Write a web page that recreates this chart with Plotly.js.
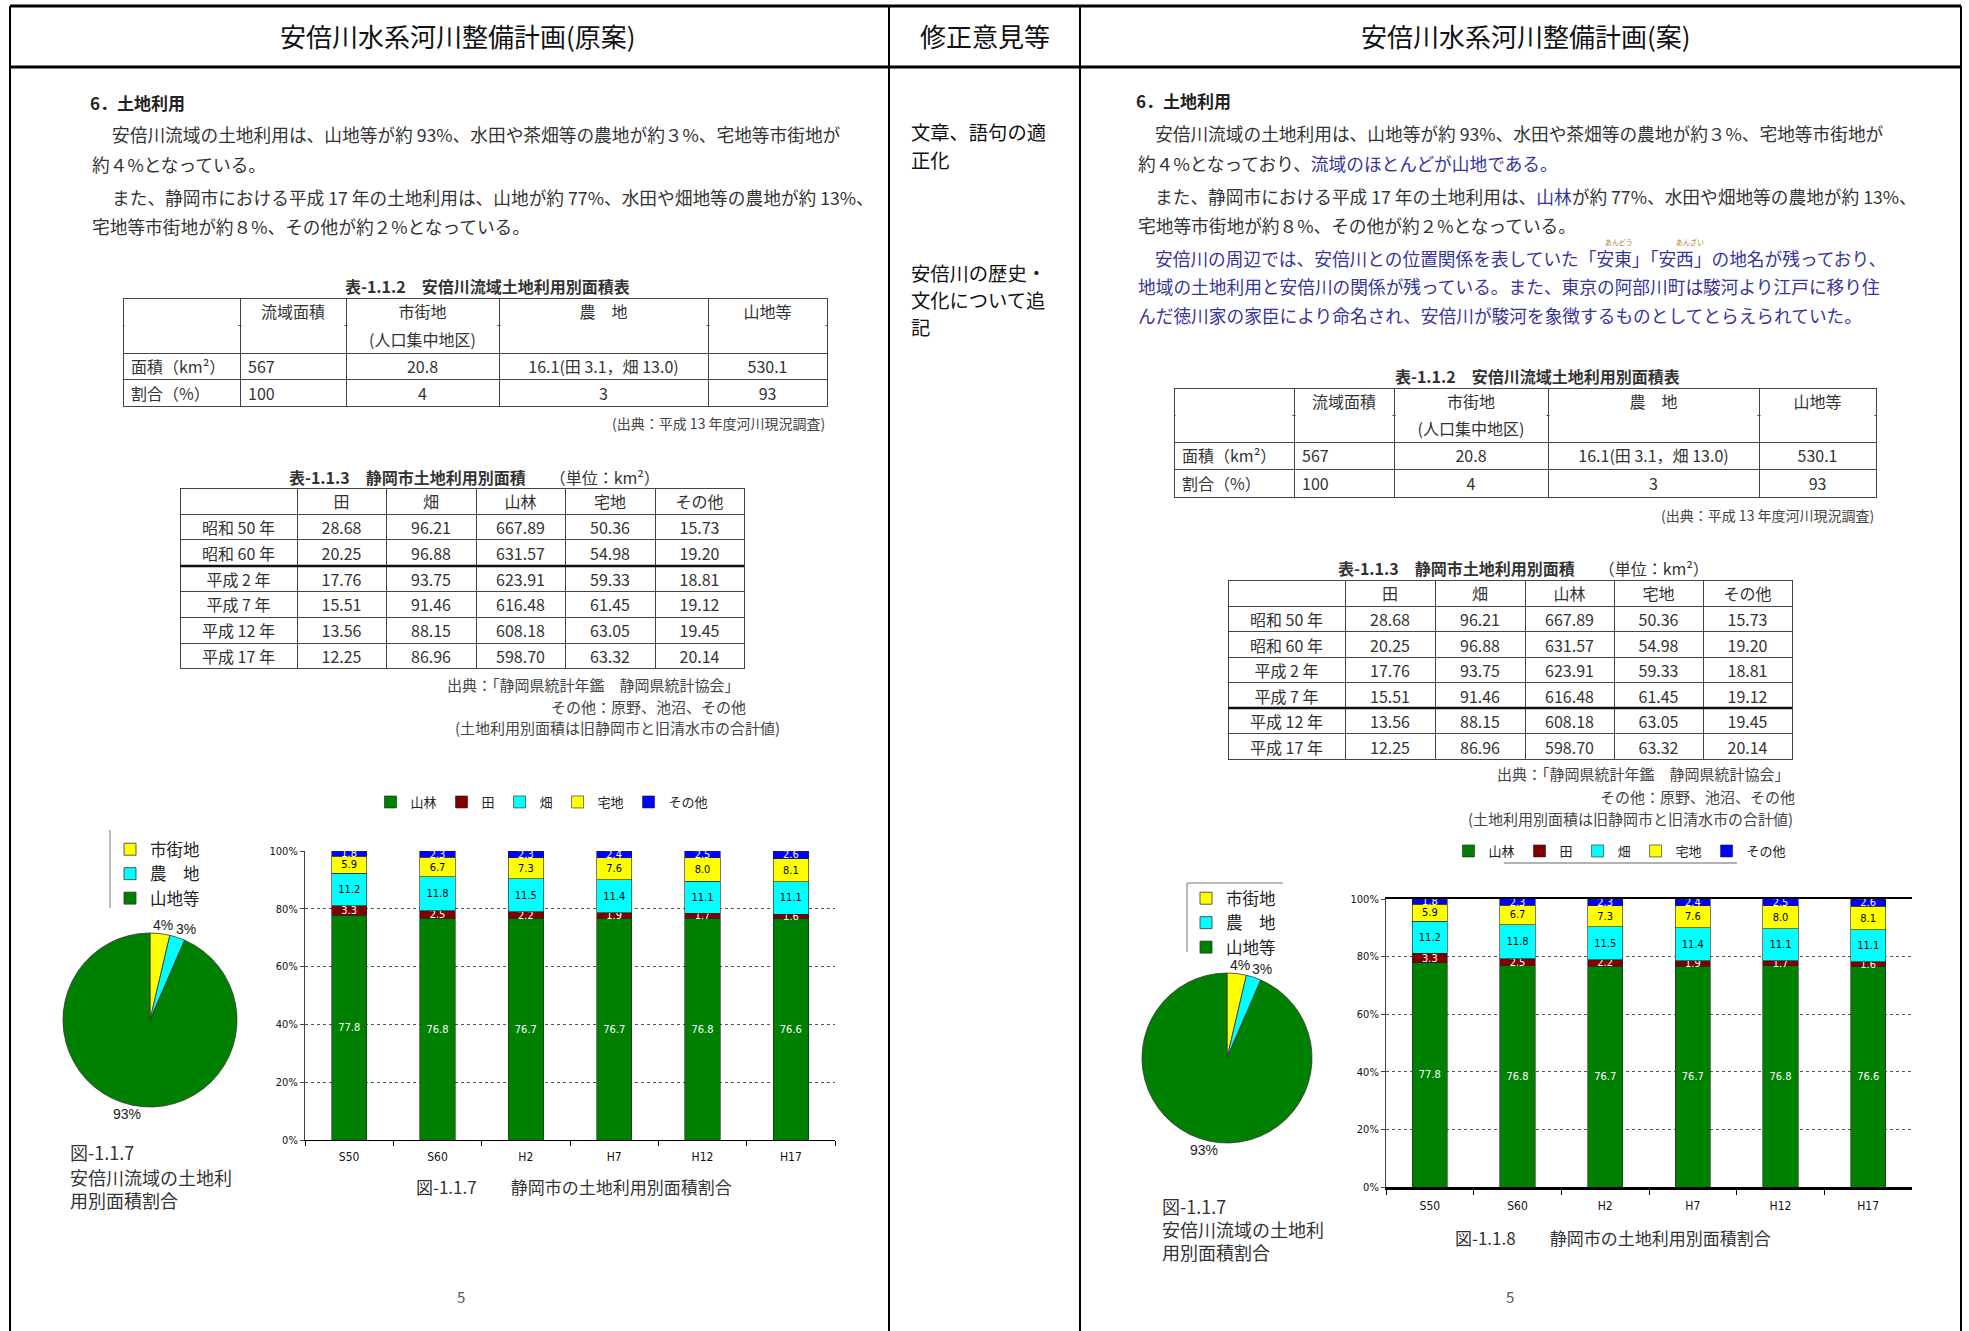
<!DOCTYPE html>
<html><head><meta charset="utf-8">
<script src="https://cdn.plot.ly/plotly-3.0.1.min.js"></script>
<style>html,body{margin:0;padding:0;background:#fff}#chart{width:1969px;height:1331px}</style>
</head><body><div id="chart"></div>
<script>
// ---------------- data ----------------
const years = ['S50','S60','H2','H7','H12','H17'];
const seriesNames = ['山林','田','畑','宅地','その他'];
const sanrin  = [77.8,76.8,76.7,76.7,76.8,76.6];
const ta      = [3.3,2.5,2.2,1.9,1.7,1.6];
const hata    = [11.2,11.8,11.5,11.4,11.1,11.1];
const takuchi = [5.9,6.7,7.3,7.6,8.0,8.1];
const sonota  = [1.8,2.3,2.3,2.4,2.5,2.6];
const yTickVals = [0,20,40,60,80,100];
const yTickText = ['0%','20%','40%','60%','80%','100%'];

const pieLabels = ['市街地','農　地','山地等'];
const pieValues = [20.8,16.1,530.1];
const pieText   = ['4%','3%','93%'];

const t1HeaderTop = ['', '流域面積', '市街地', '農　地', '山地等'];
const t1HeaderSub = ['', '', '(人口集中地区)', '', ''];
const t1RowLabels = ['面積（km²）','割合（%）'];
const t1Basin   = ['567','100'];
const t1Urban   = ['20.8','4'];
const t1Farm    = ['16.1(田 3.1，畑 13.0)','3'];
const t1Mount   = ['530.1','93'];

const t2Header = ['', '田','畑','山林','宅地','その他'];
const t2Years  = ['昭和 50 年','昭和 60 年','平成 2 年','平成 7 年','平成 12 年','平成 17 年'];
const t2Ta      = ['28.68','20.25','17.76','15.51','13.56','12.25'];
const t2Hata    = ['96.21','96.88','93.75','91.46','88.15','86.96'];
const t2Sanrin  = ['667.89','631.57','623.91','616.48','608.18','598.70'];
const t2Takuchi = ['50.36','54.98','59.33','61.45','63.05','63.32'];
const t2Sonota  = ['15.73','19.20','18.81','19.12','19.45','20.14'];

// ---------------- helpers ----------------
const W=1969, H=1331;
const px = x => x/W, py = y => 1 - y/H;
const JP = '"Noto Sans CJK JP", "Noto Sans", sans-serif';
const NARROW = '"Liberation Sans Narrow", "DejaVu Sans Condensed", "Liberation Sans", sans-serif';
const ARIAL = '"Liberation Sans", Arial, sans-serif';
const BODY = '#333';
const BLUE = '#35359a';
const seriesVals = [sanrin, ta, hata, takuchi, sonota];
const seriesColors = ['#008000','#800000','#00ffff','#ffff00','#0000ff'];
const seriesText = ['#ffffff','#ffffff','#000000','#000000','#ffffff'];

const traces = [];
const ann = [];
const shapes = [];
function T(text, x, y, o){
  o = o || {};
  ann.push({text, x:px(x), y:py(y), xref:'paper', yref:'paper', xanchor:o.xa||'left', yanchor:'middle',
    showarrow:false, font:{family:o.f||JP, size:o.s||18, color:o.c||BODY}});
}
function L(x0,y0,x1,y1,w,c,dash){
  shapes.push({type:'line', xref:'paper', yref:'paper', x0:px(x0), y0:py(y0), x1:px(x1), y1:py(y1),
    line:{color:c||'#000', width:w||1, dash:dash||'solid'}, layer:'above'});
}

function addBars(xa, ya, lg){
  seriesVals.forEach((vals,i)=>{
    traces.push({
      type:'bar', x:years, y:vals, name:seriesNames[i], xaxis:xa, yaxis:ya, legend:lg,
      marker:{color:seriesColors[i], line:{color:'#222', width:0.6}},
      text: vals.map(v=>v.toFixed(1)), textposition:'inside', insidetextanchor:'middle',
      textangle:0, constraintext:'none',
      textfont:{family:NARROW, size:11, color:seriesText[i]},
      hoverinfo:'skip'
    });
  });
}
addBars('x','y','legend');
addBars('x2','y2','legend3');

function addPie(cx, cy, r, lg, grp){
  traces.push({
    type:'pie', labels:pieLabels, values:pieValues, textinfo:'none',
    sort:false, direction:'clockwise', rotation:0, legendgroup:grp,
    marker:{colors:['#ffff00','#00ffff','#008000'], line:{width:0.8, color:'#333'}},
    domain:{x:[px(cx-r), px(cx+r)], y:[py(cy+r), py(cy-r)]},
    legend:lg, hoverinfo:'skip'
  });
  // percentage labels placed just outside each slice, at its mid angle
  const total = pieValues.reduce((a,b)=>a+b,0);
  let cum = 0;
  pieValues.forEach((v,i)=>{
    const mid = (cum + v/2)/total*2*Math.PI; cum += v;
    const d = r + 2;
    T(pieText[i], cx + (d+24)*Math.sin(mid), cy - (d+7)*Math.cos(mid), {xa:'center', f:ARIAL, s:14, c:'#222'});
  });
}
addPie(150,1020,87,'legend2','pieL');
addPie(1227,1058,85,'legend4','pieR');

const tfont = {family:JP, size:16, color:'#333'};
const tline = {color:'#444', width:1};
function addTable1(xs, top, hh, rh){
  const cw = []; for(let i=1;i<xs.length;i++) cw.push(xs[i]-xs[i-1]);
  const hv = t1HeaderTop.map((t,i)=>[t, t1HeaderSub[i]]);
  traces.push({
    type:'table', domain:{x:[px(xs[0]), px(xs[xs.length-1])], y:[py(top+2*hh+2*rh+40), py(top)]},
    columnwidth: cw,
    header:{values:hv, align:['left','center','center','center','center'], height:hh,
      font:tfont, line:tline, fill:{color:'#fff'}},
    cells:{values:[t1RowLabels,t1Basin,t1Urban,t1Farm,t1Mount], align:['left','left','center','center','center'],
      height:rh, font:tfont, line:tline, fill:{color:'#fff'}}
  });
  // header is one merged cell in the reference: hide the inner header rule
  for(let i=1;i<xs.length;i++) L(xs[i-1]+1.5, top+hh, xs[i]-1.5, top+hh, 2.2, '#ffffff');
}
function addTable2(xs, top, hh, rh){
  const cw = []; for(let i=1;i<xs.length;i++) cw.push(xs[i]-xs[i-1]);
  traces.push({
    type:'table', domain:{x:[px(xs[0]), px(xs[xs.length-1])], y:[py(top+hh+6*rh+40), py(top)]},
    columnwidth: cw,
    header:{values:t2Header, align:'center', height:hh, font:tfont, line:tline, fill:{color:'#fff'}},
    cells:{values:[t2Years,t2Ta,t2Hata,t2Sanrin,t2Takuchi,t2Sonota], align:'center',
      height:rh, font:tfont, line:tline, fill:{color:'#fff'}}
  });
}
addTable1([123,240,346,499,708,827], 298, 27.5, 26.5);
addTable2([180,297,386,476,565,655,744], 488, 26, 25.8);
addTable1([1174,1294,1394,1548,1759,1876], 388, 27, 27.5);
addTable2([1228,1345,1435,1525,1614,1703,1792], 580, 26, 25.5);

// ---------------- texts ----------------
const bl = s => `<span style="color:${BLUE}">${s}</span>`;
T('安倍川水系河川整備計画(原案)', 458, 36, {xa:'center', s:26, c:'#111'});
T('修正意見等', 985, 36, {xa:'center', s:26, c:'#111'});
T('安倍川水系河川整備計画(案)', 1526, 36, {xa:'center', s:26, c:'#111'});
// left text
T('<b>6．土地利用</b>', 88, 103, {s:17, c:'#222'});
T('安倍川流域の土地利用は、山地等が約 93%、水田や茶畑等の農地が約３%、宅地等市街地が', 110, 134, {s:17.7});
T('約４%となっている。', 90, 164, {s:17.7});
T('また、静岡市における平成 17 年の土地利用は、山地が約 77%、水田や畑地等の農地が約 13%、', 110, 197, {s:17.7});
T('宅地等市街地が約８%、その他が約２%となっている。', 90, 226, {s:17.7});
// middle column
T('文章、語句の適', 909, 132, {s:19.3, c:'#111'});
T('正化', 909, 160, {s:19.3, c:'#111'});
T('安倍川の歴史・', 909, 273, {s:19.3, c:'#111'});
T('文化について追', 909, 300, {s:19.3, c:'#111'});
T('記', 909, 327, {s:19.3, c:'#111'});
// right text
T('<b>6．土地利用</b>', 1134, 101, {s:17, c:'#222'});
T('安倍川流域の土地利用は、山地等が約 93%、水田や茶畑等の農地が約３%、宅地等市街地が', 1153, 133, {s:17.7});
T('約４%となっており、'+bl('流域のほとんどが山地である。'), 1136, 163, {s:17.7});
T('また、静岡市における平成 17 年の土地利用は、'+bl('山林')+'が約 77%、水田や畑地等の農地が約 13%、', 1153, 196, {s:17.7});
T('宅地等市街地が約８%、その他が約２%となっている。', 1136, 225, {s:17.7});
T(bl('安倍川の周辺では、安倍川との位置関係を表していた「安東」「安西」の地名が残っており、'), 1153, 258, {s:17.7});
T(bl('地域の土地利用と安倍川の関係が残っている。また、東京の阿部川町は駿河より江戸に移り住'), 1136, 286, {s:17.7});
T(bl('んだ徳川家の家臣により命名され、安倍川が駿河を象徴するものとしてとらえられていた。'), 1136, 315, {s:17.7});
T('あんどう', 1619, 242, {xa:'center', s:7, c:'#b07a30'});
T('あんざい', 1690, 242, {xa:'center', s:7, c:'#b07a30'});
// table captions / sources left
T('<b>表-1.1.2　安倍川流域土地利用別面積表</b>', 487, 286, {xa:'center', s:16});
T('(出典：平成 13 年度河川現況調査)', 827, 423, {xa:'right', s:14, c:'#444'});
T('<b>表-1.1.3　静岡市土地利用別面積</b>　　（単位：km²）', 474, 477, {xa:'center', s:16});
T('出典：「静岡県統計年鑑　静岡県統計協会」', 742, 684, {xa:'right', s:15, c:'#444'});
T('その他：原野、池沼、その他', 748, 706, {xa:'right', s:15, c:'#444'});
T('(土地利用別面積は旧静岡市と旧清水市の合計値)', 782, 728, {xa:'right', s:15, c:'#444'});
// right
T('<b>表-1.1.2　安倍川流域土地利用別面積表</b>', 1537, 376, {xa:'center', s:16});
T('(出典：平成 13 年度河川現況調査)', 1876, 515, {xa:'right', s:14, c:'#444'});
T('<b>表-1.1.3　静岡市土地利用別面積</b>　　（単位：km²）', 1523, 568, {xa:'center', s:16});
T('出典：「静岡県統計年鑑　静岡県統計協会」', 1792, 773, {xa:'right', s:15, c:'#444'});
T('その他：原野、池沼、その他', 1797, 796, {xa:'right', s:15, c:'#444'});
T('(土地利用別面積は旧静岡市と旧清水市の合計値)', 1795, 818, {xa:'right', s:15, c:'#444'});
// figure captions
T('図-1.1.7', 68, 1152, {s:18});
T('安倍川流域の土地利', 68, 1177, {s:18});
T('用別面積割合', 68, 1200, {s:18});
T('図-1.1.7　　静岡市の土地利用別面積割合', 414, 1186, {s:17});
T('図-1.1.7', 1160, 1206, {s:18});
T('安倍川流域の土地利', 1160, 1229, {s:18});
T('用別面積割合', 1160, 1252, {s:18});
T('図-1.1.8　　静岡市の土地利用別面積割合', 1453, 1237, {s:17});
T('5', 461, 1296, {xa:'center', s:15, c:'#555'});
T('5', 1510, 1296, {xa:'center', s:15, c:'#555'});

// ---------------- frame & rules ----------------
L(10,6,1961,6,3);
L(10,67,1961,67,3);
[10,889,1080,1961].forEach(x=>L(x,6,x,1331,2));
L(180,566,744,566,2.5,'#111');
L(1228,708,1792,708,2.5,'#111');
L(110,830,110,908,1,'#777');
L(1187,883,1283,883,1,'#777');
L(1187,883,1187,952,1,'#777');
L(1504,863,1737,863,1.5,'#999');

// ---------------- axes ----------------
function xax(d0,d1,anchor,lw,mirror){
  return {domain:[px(d0),px(d1)], anchor, type:'category', showline:true, linecolor:'#000', linewidth:lw,
    mirror:mirror, ticks:'outside', tickson:'boundaries', ticklen:5, tickcolor:'#000', showgrid:false,
    ticklabelstandoff:6, tickfont:{family:NARROW, size:12, color:'#111'}, fixedrange:true};
}
function yax(top,bot,anchor){
  return {domain:[py(bot),py(top)], anchor, range:[0,100], tickmode:'array', tickvals:yTickVals, ticktext:yTickText,
    showgrid:true, gridcolor:'#555', griddash:'dot', gridwidth:1, zeroline:false,
    showline:true, linecolor:'#444', linewidth:1, ticks:'outside', ticklen:4, tickcolor:'#444',
    tickfont:{family:NARROW, size:11, color:'#111'}, fixedrange:true};
}

const layout = {
  width:W, height:H, margin:{l:0,r:0,t:0,b:0}, paper_bgcolor:'#fff', plot_bgcolor:'#fff',
  barmode:'stack', bargap:0.6, showlegend:true,
  xaxis: xax(305,835,'y',1,false),
  yaxis: yax(851,1140,'x'),
  xaxis2: xax(1386,1912,'y2',2.5,true),
  yaxis2: yax(899,1187,'x2'),
  legend:{x:px(542), xanchor:'center', y:py(802), yanchor:'middle', orientation:'h',
    font:{family:JP, size:13, color:'#222'}, bgcolor:'rgba(0,0,0,0)', traceorder:'normal'},
  legend2:{x:px(110), xanchor:'left', y:py(832), yanchor:'top', orientation:'v',
    font:{family:JP, size:16.5, color:'#222'}, bgcolor:'rgba(0,0,0,0)', tracegroupgap:0},
  legend3:{x:px(1620), xanchor:'center', y:py(851), yanchor:'middle', orientation:'h',
    font:{family:JP, size:13, color:'#222'}, bgcolor:'rgba(0,0,0,0)', traceorder:'normal'},
  legend4:{x:px(1186), xanchor:'left', y:py(881), yanchor:'top', orientation:'v',
    font:{family:JP, size:16.5, color:'#222'}, bgcolor:'rgba(0,0,0,0)', tracegroupgap:0},
  annotations: ann, shapes: shapes
};
Plotly.newPlot('chart', traces, layout, {displayModeBar:false, staticPlot:true});
</script>
</body></html>
